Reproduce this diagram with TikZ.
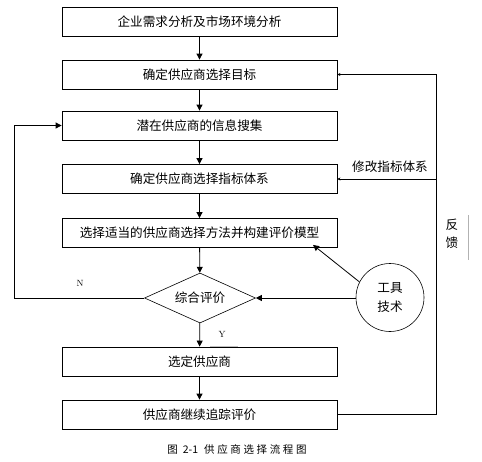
\documentclass[tikz,border=0pt]{standalone}
\usepackage{fontspec}
\newfontfamily\cjk{Noto Sans CJK SC}
\newfontfamily\cjkspaced[LetterSpace=25]{Noto Sans CJK SC}
\usetikzlibrary{shapes.geometric,arrows.meta}
\begin{document}
\begin{tikzpicture}[x=1pt,y=-1pt,
  font=\cjk\fontsize{12.6}{15}\selectfont,
  stepbox/.style={draw,line width=0.8pt,minimum width=275pt,minimum height=29pt,inner sep=0pt},
  flow/.style={line width=0.8pt,-{Triangle[width=6pt,length=6pt]}},
  fb/.style={line width=0.8pt,-{Stealth[width=3pt,length=3pt]}},
  lbl/.style={font=\fontsize{9}{10}\selectfont}]
\useasboundingbox (0,0) rectangle (482,461);
\node[stepbox] (b1) at (199.5,21.5) {企业需求分析及市场环境分析};
\node[stepbox] (b2) at (199.5,74.5) {确定供应商选择目标};
\node[stepbox] (b3) at (199.5,125.5) {潜在供应商的信息搜集};
\node[stepbox] (b4) at (199.5,179) {确定供应商选择指标体系};
\node[stepbox] (b5) at (199.5,233) {选择适当的供应商选择方法并构建评价模型};
\node[draw,diamond,line width=0.6pt,minimum width=111pt,minimum height=50pt,inner sep=0pt,aspect=2.2] (dia) at (200,298) {综合评价};
\node[stepbox] (b6) at (199.5,361.5) {选定供应商};
\node[stepbox] (b7) at (199.5,414.5) {供应商继续追踪评价};
\node[draw,circle,line width=0.6pt,minimum size=68pt,inner sep=0pt,align=center,font=\cjk\fontsize{12.6}{19}\selectfont] (circ) at (390,297.5) {工具\\技术};

\draw[flow] (b1) -- (b2);
\draw[flow] (b2) -- (b3);
\draw[flow] (b3) -- (b4);
\draw[flow] (b4) -- (b5);
\draw[flow] (b5) -- (dia);
\draw[flow] (dia) -- (b6);
\draw[flow] (b6) -- (b7);

\coordinate (lc) at (14,298);
\draw[flow] (dia.west) -- (lc) |- (b3.west);

\coordinate (rx) at (436,0);
\draw[fb] (b7.east) -| (rx |- b2.east) -- (b2.east);
\draw[fb] (rx |- b4.east) -- (b4.east);

\coordinate (t5) at ([xshift=113.5pt,yshift=3pt]b5.south);
\draw[flow] (circ.153) -- (t5);
\draw[flow] (circ.west |- dia.east) -- (dia.east);

\node (mod) at (390,167) {修改指标体系};
\node[align=center,font=\cjk\fontsize{12.6}{18}\selectfont] (fk) at (452,234) {反\\馈};
\draw[gray!60,line width=0.6pt] (468,215) -- (468,260);

\node[lbl] (nl) at (80,283) {N};
\node[lbl] (yl) at (222,334) {Y};
\draw[gray!50,line width=0.6pt] (210,346) -- (238,346);

\node[font=\cjk\fontsize{10.5}{12}\selectfont] (cap) at (237,449) {图\hspace{5pt}2-1\hspace{6pt}{\cjkspaced 供应商选择流程图}};
\end{tikzpicture}
\end{document}
